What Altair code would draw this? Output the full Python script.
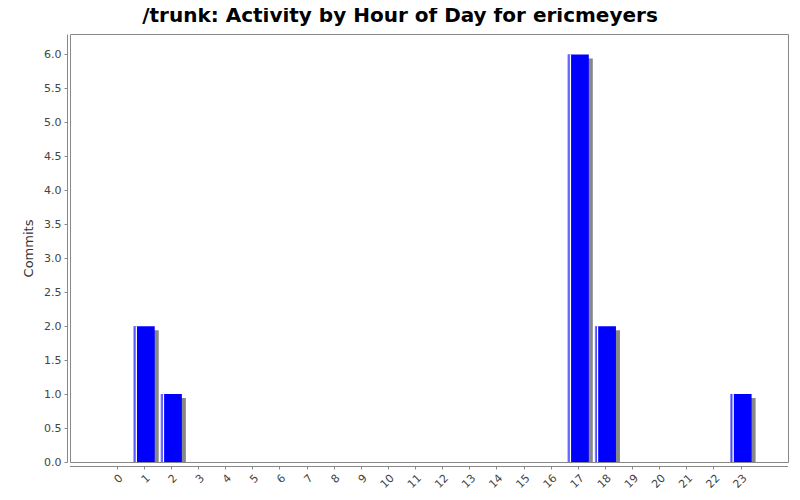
import altair as alt
import pandas as pd

hours = [str(h) for h in range(24)]
commits = [0, 2, 1, 0, 0, 0, 0, 0, 0, 0, 0, 0, 0, 0, 0, 0, 0, 6, 2, 0, 0, 0, 0, 1]

df = pd.DataFrame({"hour": hours, "commits": commits})
nz = df[df["commits"] > 0]

xscale = alt.Scale(domain=hours, paddingInner=0.226, paddingOuter=0, range=[36.6, 681.6])
yscale = alt.Scale(domain=[0, 6.3], nice=False)

xenc = alt.X("hour:N", scale=xscale, sort=hours, title=None,
             axis=alt.Axis(labelAngle=-45, labelAlign="right", labelBaseline="top",
                           labelColor="#444444", labelFontSize=11, labelFont="DejaVu Sans",
                           domain=False, tickColor="#888888", tickSize=3,
                           offset=4, labelPadding=3, grid=False))
yenc = alt.Y("commits:Q", scale=yscale, title="Commits",
             axis=alt.Axis(values=[i * 0.5 for i in range(13)], format=".1f",
                           labelColor="#444444", labelFontSize=11, labelFont="DejaVu Sans",
                           titleColor="#333333", titleFontSize=13, titleFont="DejaVu Sans",
                           titleFontWeight="normal", titlePadding=8,
                           domainColor="#888888", tickColor="#888888", tickSize=3,
                           offset=3, labelPadding=3, grid=False))

base = alt.Chart(df)

shadow = alt.Chart(nz).mark_bar(color="#888888", xOffset=4, yOffset=4).encode(
    x=xenc, y=yenc, y2=alt.datum(0))
bars = base.mark_bar(color="#0000FF").encode(x=xenc, y=yenc, y2=alt.datum(0))
edge = alt.Chart(nz).mark_rule(color="#8080FF", strokeWidth=1, xOffset=-10).encode(
    x=xenc, y=yenc, y2=alt.datum(0))
hl = alt.Chart(nz).mark_rule(color="#FFFFFF", strokeWidth=1.5, xOffset=-8).encode(
    x=xenc, y=yenc, y2=alt.datum(0))
xaxis_line = alt.Chart(nz.head(1)).mark_rule(color="#888888", strokeWidth=1).encode(
    x=alt.value(0), x2=alt.value(718), y=alt.value(432.5))

chart = alt.layer(shadow, bars, edge, hl, xaxis_line).properties(
    width=718, height=428,
    autosize=alt.AutoSizeParams(type="none"),
    padding={"left": 62, "top": 26, "right": 4, "bottom": 30},
    title=alt.TitleParams("/trunk: Activity by Hour of Day for ericmeyers",
                          font="DejaVu Sans", fontSize=20, fontWeight="bold",
                          color="#000000", anchor="middle", offset=8, dx=-29),
).configure_view(stroke="#888888", strokeWidth=1)

chart.save("out.html", embed_options={"renderer": "svg", "actions": False})
